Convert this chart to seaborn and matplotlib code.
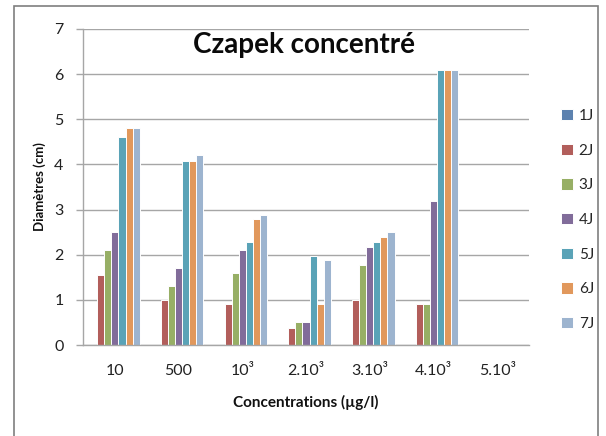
import numpy as np
import pandas as pd
import seaborn as sns
import matplotlib.pyplot as plt
from matplotlib.patches import Rectangle

concentrations = ['10', '500', '10³', '2.10³', '3.10³', '4.10³', '5.10³']
jours = ['1J', '2J', '3J', '4J', '5J', '6J', '7J']
d_1j = [0, 0, 0, 0, 0, 0, 0]
d_2j = [1.55, 1.0, 0.9, 0.38, 1.0, 0.9, 0]
d_3j = [2.1, 1.3, 1.6, 0.5, 1.78, 0.9, 0]
d_4j = [2.5, 1.7, 2.1, 0.5, 2.18, 3.2, 0]
d_5j = [4.6, 4.08, 2.28, 1.98, 2.28, 6.1, 0]
d_6j = [4.8, 4.08, 2.8, 0.9, 2.4, 6.1, 0]
d_7j = [4.8, 4.2, 2.88, 1.88, 2.5, 6.1, 0]
colors = ['#4F81BD', '#C0504D', '#9BBB59', '#8064A2', '#4BACC6', '#F79646', '#95B3D7']

series = [d_1j, d_2j, d_3j, d_4j, d_5j, d_6j, d_7j]
rows = []
for jour, vals in zip(jours, series):
    for conc, v in zip(concentrations, vals):
        rows.append({'Concentration': conc, 'Jour': jour, 'Diametre': v})
df = pd.DataFrame(rows)

sns.set_theme(style='white')
plt.rcParams['font.family'] = ['Lato', 'DejaVu Sans']

fig = plt.figure(figsize=(6.06, 4.36), dpi=100)
ax = fig.add_axes([0.137, 0.2087, 0.736, 0.7248])

sns.barplot(data=df, x='Concentration', y='Diametre', hue='Jour', order=concentrations,
            hue_order=jours, palette=colors, width=0.78, edgecolor='white', linewidth=0.7,
            ax=ax, legend=True)

ax.set_ylim(0, 7)
ax.set_xlim(-0.5, 6.5)
ax.set_yticks(range(8))
ax.yaxis.grid(True, color='#A6A6A6', linewidth=1)
ax.set_axisbelow(True)
for s in ['top', 'right']:
    ax.spines[s].set_visible(False)
for s in ['left', 'bottom']:
    ax.spines[s].set_color('#A6A6A6')
    ax.spines[s].set_linewidth(1)

ax.tick_params(axis='x', which='major', length=0, labelsize=11.5, pad=14, labelcolor='#222222')
ax.set_xticks(np.arange(-0.5, 7, 1), minor=True)
ax.tick_params(axis='x', which='minor', length=5, color='#A6A6A6', width=1, direction='out')
ax.tick_params(axis='y', length=5, color='#A6A6A6', width=1, labelsize=11.5, pad=9,
               labelcolor='#222222', left=True)

ax.set_xlabel('Concentrations (µg/l)', fontsize=11, fontweight='bold', labelpad=12, color='#111111')
ax.set_ylabel('Diamètres (cm)', fontsize=9.5, fontweight='bold', labelpad=6, color='#111111')

# title sits inside the plot area
ax.text(0.495, 6.64, 'Czapek concentré', transform=ax.get_yaxis_transform(),
        fontsize=20, fontweight='bold', ha='center', va='center', color='#0a0a0a')

handles, labels = ax.get_legend_handles_labels()
ax.legend(handles, labels, loc='upper left', bbox_to_anchor=(555 / 606, 1 - 103 / 436),
          bbox_transform=fig.transFigure, frameon=False, fontsize=11, handlelength=0.75,
          handleheight=0.75, handletextpad=0.4, labelspacing=1.35, borderaxespad=0)

fig.patches.append(Rectangle((14 / 606, -0.05), (598 - 14) / 606, 1.05 - 6 / 436,
                             transform=fig.transFigure, fill=False, edgecolor='#7F7F7F',
                             linewidth=1.2, zorder=-1))

fig.savefig('out.png', dpi=100)
